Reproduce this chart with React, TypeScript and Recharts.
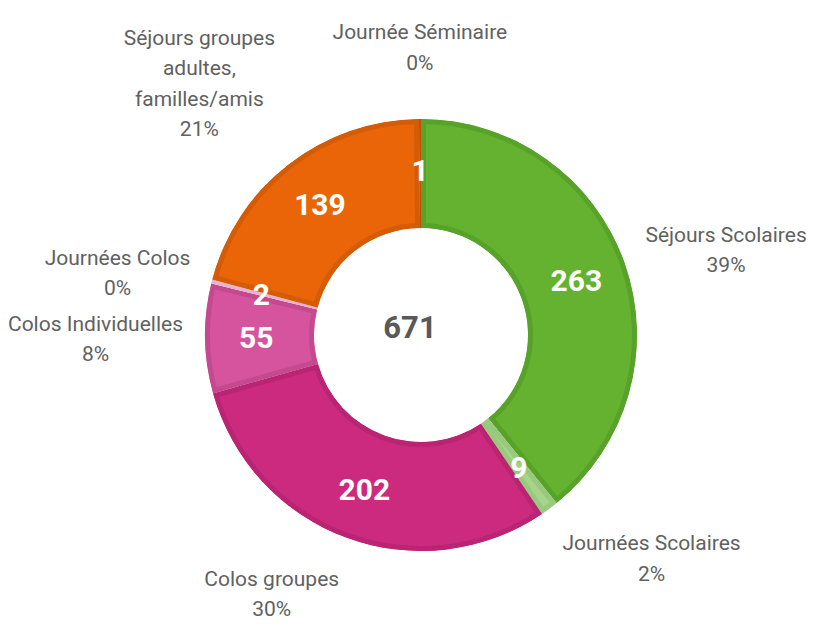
import { PieChart, Pie, Sector, Label } from 'recharts';

const categories = [
  'Séjours Scolaires',
  'Journées Scolaires',
  'Colos groupes',
  'Colos Individuelles',
  'Journées Colos',
  'Séjours groupes\nadultes,\nfamilles/amis',
  'Journée Séminaire',
];
const counts = [263, 9, 202, 55, 2, 139, 1];
const percentLabels = ['39%', '2%', '30%', '8%', '0%', '21%', '0%'];
const total = 671;

const fills = ['#64b22f', '#a6d48b', '#cc2a7e', '#d6539d', '#f3c5dd', '#ea6508', '#d4590a'];
const borders = ['#57a229', '#98c97c', '#b92572', '#c44a90', '#e9b3cf', '#d45c07', '#c25008'];

const data = categories.map((name, i) => ({ name, value: counts[i] }));

const TEXT = '#616161';
const FONT = 'Roboto, "Noto Sans", sans-serif';
const LABEL_SIZE = 21;
const RAD = Math.PI / 180;

// rough text width, used to centre multi-line labels inside their block
let ctx: CanvasRenderingContext2D | null = null;
function textWidth(s: string) {
  if (!ctx) ctx = document.createElement('canvas').getContext('2d');
  if (!ctx) return s.length * LABEL_SIZE * 0.48;
  ctx.font = `${LABEL_SIZE}px ${FONT}`;
  return ctx.measureText(s).width;
}

function InsetSector(props: any) {
  const i = categories.indexOf(props.name ?? props.payload?.name);
  const id = `slice-clip-${i}`;
  const geom = {
    cx: props.cx, cy: props.cy,
    innerRadius: props.innerRadius, outerRadius: props.outerRadius,
    startAngle: props.startAngle, endAngle: props.endAngle,
  };
  return (
    <g>
      <defs>
        <clipPath id={id}><Sector {...geom} /></clipPath>
      </defs>
      <Sector {...geom} fill={fills[i]} stroke={borders[i]} strokeWidth={10} clipPath={`url(#${id})`} />
    </g>
  );
}

function SliceLabel(props: any) {
  const { cx, cy, midAngle, innerRadius, outerRadius, index } = props;
  const cos = Math.cos(-midAngle * RAD);
  const sin = Math.sin(-midAngle * RAD); // screen coords, positive = down

  // value inside the ring
  const rIn = innerRadius + (outerRadius - innerRadius) * 0.53;
  const vx = cx + rIn * cos;
  const vy = cy + rIn * sin;

  // name + percent outside
  const lines = [...categories[index].split('\n'), percentLabels[index]];
  const lh = 30.5;
  const blockH = (lines.length - 1) * lh + 28;
  const blockW = Math.max(...lines.map(textWidth));
  const rOut = outerRadius + 22;
  const px = cx + rOut * cos;
  const side = cos > 0.3 ? 1 : cos < -0.3 ? -1 : 0;
  const bx = px + side * blockW / 2;
  const oy = cy + rOut * sin + sin * Math.abs(sin) * blockH * 0.85;
  let top = oy - ((lines.length - 1) * lh) / 2;
  top = Math.max(26, Math.min(top, 609 - (lines.length - 1) * lh));

  return (
    <g>
      <text x={vx} y={vy} fill="#fff" textAnchor="middle" dominantBaseline="central"
        fontFamily={FONT} fontWeight={700} fontSize={30}>
        {counts[index]}
      </text>
      <text x={bx} y={top} fill={TEXT} textAnchor="middle" dominantBaseline="central"
        fontFamily={FONT} fontSize={LABEL_SIZE}>
        {lines.map((l, k) => (
          <tspan key={k} x={bx} y={top + k * lh}>{l}</tspan>
        ))}
      </text>
    </g>
  );
}

export default function App() {
  return (
    <div style={{ position: 'absolute', left: 0, top: 0, width: 819, height: 625, background: '#fff' }}>
      <PieChart width={819} height={625} margin={{ top: 0, right: 0, bottom: 0, left: 0 }}>
        <Pie
          data={data}
          dataKey="value"
          nameKey="name"
          cx={421}
          cy={335}
          innerRadius={107}
          outerRadius={216}
          startAngle={90}
          endAngle={-270}
          stroke="none"
          shape={InsetSector}
          label={SliceLabel}
          labelLine={false}
          isAnimationActive={false}
        >
          <Label
            position="center"
            content={(p: any) => {
              const vb = p.viewBox || {};
              return (
                <text x={(vb.cx ?? 421) - 11} y={(vb.cy ?? 335) - 8} fill="#595959" textAnchor="middle"
                  dominantBaseline="central" fontFamily={FONT} fontWeight={700} fontSize={31}>
                  {total}
                </text>
              );
            }}
          />
        </Pie>
      </PieChart>
    </div>
  );
}
